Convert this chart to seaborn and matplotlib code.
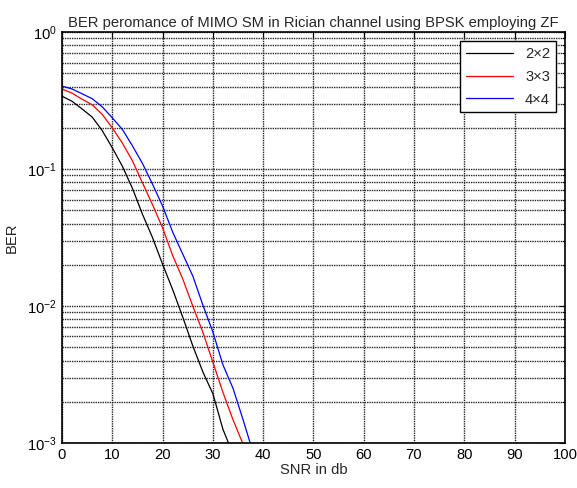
import matplotlib
matplotlib.use("Agg")
import matplotlib.pyplot as plt
import numpy as np
import pandas as pd
import seaborn as sns
from matplotlib.ticker import LogLocator, MultipleLocator

# values (BER vs SNR in dB)
snr_2x2 = [0, 2, 4, 6, 8, 10, 12, 14, 16, 18, 20, 22, 24, 26, 28, 30, 32, 34]
ber_2x2 = [0.341, 0.313, 0.275, 0.240, 0.191, 0.143, 0.105, 0.0724, 0.0468, 0.0316,
           0.0202, 0.0132, 0.00832, 0.00513, 0.00331, 0.00229, 0.00126, 0.00083]

snr_3x3 = [0, 2, 4, 6, 8, 10, 12, 14, 16, 18, 20, 22, 24, 26, 28, 30, 32, 34, 36]
ber_3x3 = [0.384, 0.359, 0.324, 0.295, 0.251, 0.200, 0.155, 0.115, 0.0794, 0.0550,
           0.0372, 0.0234, 0.0158, 0.0100, 0.00646, 0.00389, 0.00234, 0.00148, 0.00098]

snr_4x4 = [0, 2, 4, 6, 8, 10, 12, 14, 16, 18, 20, 22, 24, 26, 28, 30, 32, 34, 36, 38]
ber_4x4 = [0.404, 0.385, 0.355, 0.327, 0.285, 0.237, 0.195, 0.148, 0.110, 0.0776,
           0.0537, 0.0347, 0.0240, 0.0166, 0.0102, 0.00646, 0.00372, 0.00251, 0.00148, 0.00085]

labels = ["2\u00d72", "3\u00d73", "4\u00d74"]
colors = ["black", "red", "blue"]

df = pd.concat([
    pd.DataFrame({"snr": snr_2x2, "ber": ber_2x2, "config": labels[0]}),
    pd.DataFrame({"snr": snr_3x3, "ber": ber_3x3, "config": labels[1]}),
    pd.DataFrame({"snr": snr_4x4, "ber": ber_4x4, "config": labels[2]}),
])

FS = 10.6

sns.set_style("white")
plt.rcParams["font.family"] = ["Liberation Sans", "DejaVu Sans"]
plt.rcParams["font.size"] = FS
plt.rcParams["mathtext.fontset"] = "custom"
plt.rcParams["mathtext.rm"] = "Liberation Sans"

fig = plt.figure(figsize=(5.77, 4.88), dpi=100)
ax = fig.add_axes([0.1075, 0.0922, 0.8715, 0.8418])

sns.lineplot(data=df, x="snr", y="ber", hue="config", palette=colors,
             linewidth=0.9, ax=ax, sort=False)

ax.set_yscale("log")
ax.set_xlim(0, 100)
ax.set_ylim(1e-3, 1)
ax.xaxis.set_major_locator(MultipleLocator(10))
ax.yaxis.set_major_locator(LogLocator(base=10))
ax.yaxis.set_minor_locator(LogLocator(base=10, subs=np.arange(2, 10)))

grid_kw = dict(color="0.15", linestyle=(0, (1, 0.7)), linewidth=1.0)
ax.grid(True, which="major", axis="both", **grid_kw)
ax.grid(True, which="minor", axis="y", **grid_kw)
ax.set_axisbelow(True)

ax.tick_params(which="both", direction="in", top=True, right=True, labelsize=FS, colors="black")
ax.tick_params(which="major", length=4)
ax.tick_params(which="minor", length=2)
for spine in ax.spines.values():
    spine.set_color("black")
    spine.set_linewidth(1.2)

ax.set_title("BER peromance of MIMO SM in Rician channel using BPSK employing ZF", fontsize=FS, pad=4)
ax.set_xlabel("SNR in db", fontsize=FS, labelpad=1)
ax.set_ylabel("BER", fontsize=FS, labelpad=6)

leg = ax.legend(loc="upper right", fontsize=FS, frameon=True, fancybox=False,
                edgecolor="black", framealpha=1, handlelength=3.2, borderaxespad=0.6,
                labelspacing=0.6)
leg.get_frame().set_linewidth(1.0)

fig.savefig("out.png", dpi=100)
